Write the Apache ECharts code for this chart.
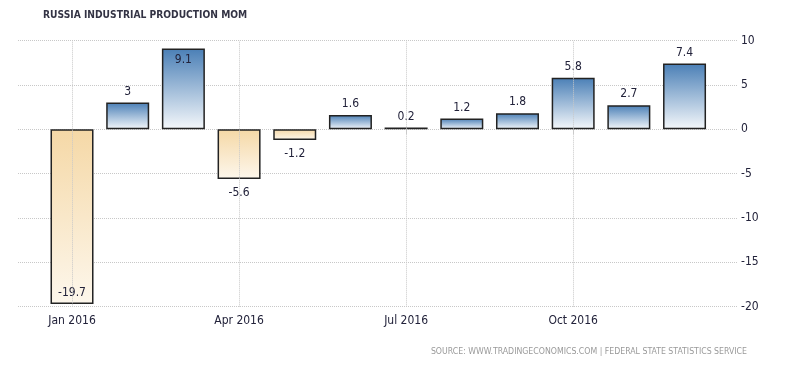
<!DOCTYPE html>
<html>
<head>
<meta charset="utf-8">
<script src="https://cdn.jsdelivr.net/npm/echarts@6/dist/echarts.min.js"></script>
<style>html,body{margin:0;padding:0;background:#fff;}#c{width:795px;height:365px;}</style>
</head>
<body>
<div id="c"></div>
<script>
const months = ['Jan 2016','Feb 2016','Mar 2016','Apr 2016','May 2016','Jun 2016','Jul 2016','Aug 2016','Sep 2016','Oct 2016','Nov 2016','Dec 2016'];
const values = [-19.7, 3, 9.1, -5.6, -1.2, 1.6, 0.2, 1.2, 1.8, 5.8, 2.7, 7.4];
const tickMonths = [0, 3, 6, 9];
const titleText = 'RUSSIA INDUSTRIAL PRODUCTION MOM';
const sourceText = 'SOURCE: WWW.TRADINGECONOMICS.COM | FEDERAL STATE STATISTICS SERVICE';

const FONT = 'DejaVu Sans Condensed';
const TXT = '#22223a';
const blueGrad = new echarts.graphic.LinearGradient(0,0,0,1,[{offset:0,color:'#4a7fb6'},{offset:1,color:'#f5f8fb'}]);
const tanGrad = new echarts.graphic.LinearGradient(0,0,0,1,[{offset:0,color:'#f5d8a6'},{offset:1,color:'#fdf7ec'}]);
const yMin = -20, yMax = 10;

const data = values.map((v, i) => {
  const nearEdge = (v > 0 && v > yMax - 2) || (v < 0 && v < yMin + 2);
  let pos, dist;
  if (v >= 0) { pos = nearEdge ? 'insideTop' : 'top'; dist = 5; }
  else { pos = nearEdge ? 'insideBottom' : 'bottom'; dist = nearEdge ? 5 : 8; }
  return {
    value: [i, v],
    itemStyle: { color: v >= 0 ? blueGrad : tanGrad },
    label: { position: pos, distance: dist }
  };
});

const chart = echarts.init(document.getElementById('c'), null, {renderer:'canvas'});
chart.setOption({
  animation: false,
  title: {
    text: titleText, left: 38, top: 5,
    textStyle: { fontFamily: FONT, fontSize: 10.2, fontWeight: 'bold', color: '#333344' }
  },
  graphic: [{
    type: 'text', right: 48, top: 347,
    style: { text: sourceText, fontFamily: FONT, fontSize: 8.7, fill: '#9a9a9a' }
  }],
  grid: { left: 18, right: 57, top: 40.5, bottom: 58.3, containLabel: false },
  xAxis: {
    type: 'value', min: -0.97, max: 11.96,
    axisLine: { show: false },
    splitLine: { show: false },
    axisTick: { show: true, customValues: tickMonths, length: 5, lineStyle: { color: '#ccc' } },
    axisLabel: {
      customValues: tickMonths, formatter: v => months[Math.round(v)],
      fontFamily: FONT, fontSize: 12, color: TXT, margin: 8
    }
  },
  yAxis: {
    type: 'value', position: 'right', min: yMin, max: yMax, interval: 5,
    axisLine: { show: false }, axisTick: { show: false },
    splitLine: { show: true, lineStyle: { color: '#c8c8c8', type: [1, 1], width: 1 } },
    axisLabel: { fontFamily: FONT, fontSize: 12, color: TXT, margin: 3 }
  },
  series: [{
    type: 'bar', barWidth: 43, data: data,
    itemStyle: { borderColor: '#222', borderWidth: 1.5 },
    label: { show: true, formatter: p => String(p.value[1]), fontFamily: FONT, fontSize: 12, color: TXT },
    markLine: {
      silent: true, symbol: 'none', label: { show: false },
      lineStyle: { color: '#c8c8c8', type: [1, 1], width: 1 },
      data: tickMonths.map(m => ({ xAxis: m }))
    },
    z: 3
  }]
});
</script>
</body>
</html>
